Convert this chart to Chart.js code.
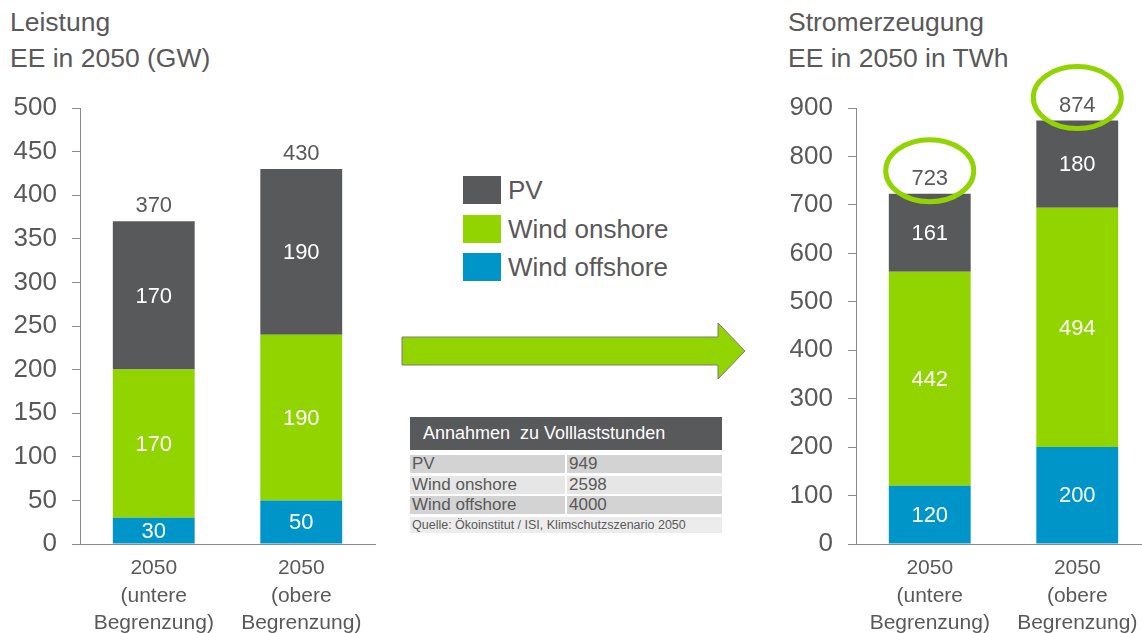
<!DOCTYPE html>
<html>
<head>
<meta charset="utf-8">
<script src="https://cdn.jsdelivr.net/npm/chart.js@4.4.1/dist/chart.umd.min.js"></script>
<style>
  html, body { margin: 0; padding: 0; background: #fff; overflow: hidden; }
  body { width: 1142px; height: 633px; position: relative; font-family: "Liberation Sans", Arial, sans-serif; color: #595959; }
  canvas { position: absolute; left: 0; top: 0; pointer-events: none; }
  .title { position: absolute; top: 4px; font-size: 26.5px; line-height: 36px; white-space: nowrap; }
  .leg { position: absolute; left: 463px; width: 38px; height: 28px; }
  .legtxt { position: absolute; left: 508px; font-size: 26px; line-height: 28px; white-space: nowrap; }
  .cell { position: absolute; font-size: 17px; line-height: 18px; padding-left: 2px; box-sizing: border-box; white-space: nowrap; }
</style>
</head>
<body>
<div class="title" style="left:10px">Leistung<br>EE in 2050 (GW)</div>
<div class="title" style="left:788px">Stromerzeugung<br>EE in 2050 in TWh</div>
<div id="legend"></div>
<svg width="1142" height="633" style="position:absolute;left:0;top:0">
  <polygon points="402,337 718,337 718,323 745,351 718,379 718,365 402,365" fill="#92d400" stroke="#7a7a7a" stroke-width="1"/>
</svg>
<div id="table"></div>
<canvas id="left" width="1160" height="633"></canvas>
<canvas id="right" width="1160" height="633"></canvas>
<script>
// categories
var categories = [["2050", "(untere", "Begrenzung)"], ["2050", "(obere", "Begrenzung)"]];

// Leistung (GW)
var gwOffshore = [30, 50];
var gwOnshore = [170, 190];
var gwPV = [170, 190];

// Stromerzeugung (TWh)
var twhOffshore = [120, 200];
var twhOnshore = [442, 494];
var twhPV = [161, 180];

// Volllaststunden table
var tableTitle = "Annahmen\u00a0 zu Volllaststunden";
var tableRows = [["PV", "949"], ["Wind onshore", "2598"], ["Wind offshore", "4000"]];
var tableSource = "Quelle: \u00d6koinstitut / ISI, Klimschutzszenario 2050";

var colPV = "#58595b";
var colOn = "#92d400";
var colOff = "#0095c8";
var txt = "#595959";
var font = '"Liberation Sans", Arial, sans-serif';

// legend
var legendItems = [["PV", colPV], ["Wind onshore", colOn], ["Wind offshore", colOff]];
var legHtml = "";
legendItems.forEach(function (it, i) {
  var top = 176 + i * 38.5;
  legHtml += '<div class="leg" style="top:' + top + 'px;background:' + it[1] + '"></div>';
  legHtml += '<div class="legtxt" style="top:' + top + 'px">' + it[0] + '</div>';
});
document.getElementById("legend").innerHTML = legHtml;

// table
var t = "";
t += '<div class="cell" style="left:410px;top:417px;width:312px;height:33px;background:#58595b;color:#fff;font-size:18px;line-height:33px;padding-left:13px">' + tableTitle + '</div>';
var rowBg = ["#d3d3d3", "#e6e6e6", "#d3d3d3"];
tableRows.forEach(function (r, i) {
  var top = 455 + i * 20.5;
  t += '<div class="cell" style="left:410px;top:' + top + 'px;width:155px;height:18px;background:' + rowBg[i] + '">' + r[0] + '</div>';
  t += '<div class="cell" style="left:567px;top:' + top + 'px;width:155px;height:18px;background:' + rowBg[i] + '">' + r[1] + '</div>';
});
t += '<div class="cell" style="left:410px;top:517px;width:312px;height:16px;background:#ececec;font-size:12.5px;line-height:16px">' + tableSource + '</div>';
document.getElementById("table").innerHTML = t;

// labels in segments, totals above, optional ellipses
var labelPlugin = {
  id: "labelPlugin",
  afterDatasetsDraw: function (chart, args, opts) {
    var ctx = chart.ctx;
    var yScale = chart.scales.y;
    ctx.save();
    ctx.textAlign = "center";
    ctx.textBaseline = "middle";
    ctx.font = "22px " + font;
    ctx.fillStyle = "#fff";
    chart.data.datasets.forEach(function (ds, di) {
      var meta = chart.getDatasetMeta(di);
      meta.data.forEach(function (bar, i) {
        ctx.fillText(String(ds.data[i]), bar.x, (bar.y + bar.base) / 2 + 1);
      });
    });
    var meta0 = chart.getDatasetMeta(0);
    meta0.data.forEach(function (bar, i) {
      var total = 0;
      chart.data.datasets.forEach(function (ds) { total += ds.data[i]; });
      var yTop = yScale.getPixelForValue(total);
      ctx.fillStyle = txt;
      ctx.fillText(String(total), bar.x, yTop - 15);
      if (opts.ellipse) {
        ctx.beginPath();
        ctx.ellipse(bar.x, yTop - 23, 44, 31, 0, 0, Math.PI * 2);
        ctx.strokeStyle = colOn;
        ctx.lineWidth = 5;
        ctx.stroke();
      }
    });
    ctx.restore();
  }
};

function makeChart(id, off, on, pv, yMax, step, padLeft, padRight, yWidth, ellipse) {
  return new Chart(document.getElementById(id), {
    type: "bar",
    data: {
      labels: categories,
      datasets: [
        { label: "Wind offshore", data: off, backgroundColor: colOff },
        { label: "Wind onshore", data: on, backgroundColor: colOn },
        { label: "PV", data: pv, backgroundColor: colPV }
      ]
    },
    plugins: [labelPlugin],
    options: {
      responsive: false,
      animation: false,
      events: [],
      layout: { padding: { left: padLeft, right: padRight, top: 108, bottom: 0 } },
      datasets: { bar: { categoryPercentage: 1, barPercentage: 0.555 } },
      plugins: {
        legend: { display: false },
        tooltip: { enabled: false },
        labelPlugin: { ellipse: ellipse }
      },
      scales: {
        x: {
          stacked: true,
          afterFit: function (s) { s.height = 89; },
          grid: { display: false, drawTicks: false },
          border: { display: true, color: "#8a8a8a", width: 1 },
          ticks: { color: txt, font: { family: font, size: 21, lineHeight: 1.3 }, padding: 11, maxRotation: 0 }
        },
        y: {
          stacked: true,
          min: 0,
          max: yMax,
          afterFit: function (s) { s.width = yWidth; },
          grid: { drawOnChartArea: false, drawTicks: true, tickLength: 8, color: "#8a8a8a" },
          border: { display: true, color: "#8a8a8a", width: 1 },
          ticks: { stepSize: step, color: txt, font: { family: font, size: 26 }, padding: 15 }
        }
      }
    }
  });
}

makeChart("left", gwOffshore, gwOnshore, gwPV, 500, 50, 0, 785, 80, false);
makeChart("right", twhOffshore, twhOnshore, twhPV, 900, 100, 770, 9, 86, true);
</script>
</body>
</html>
